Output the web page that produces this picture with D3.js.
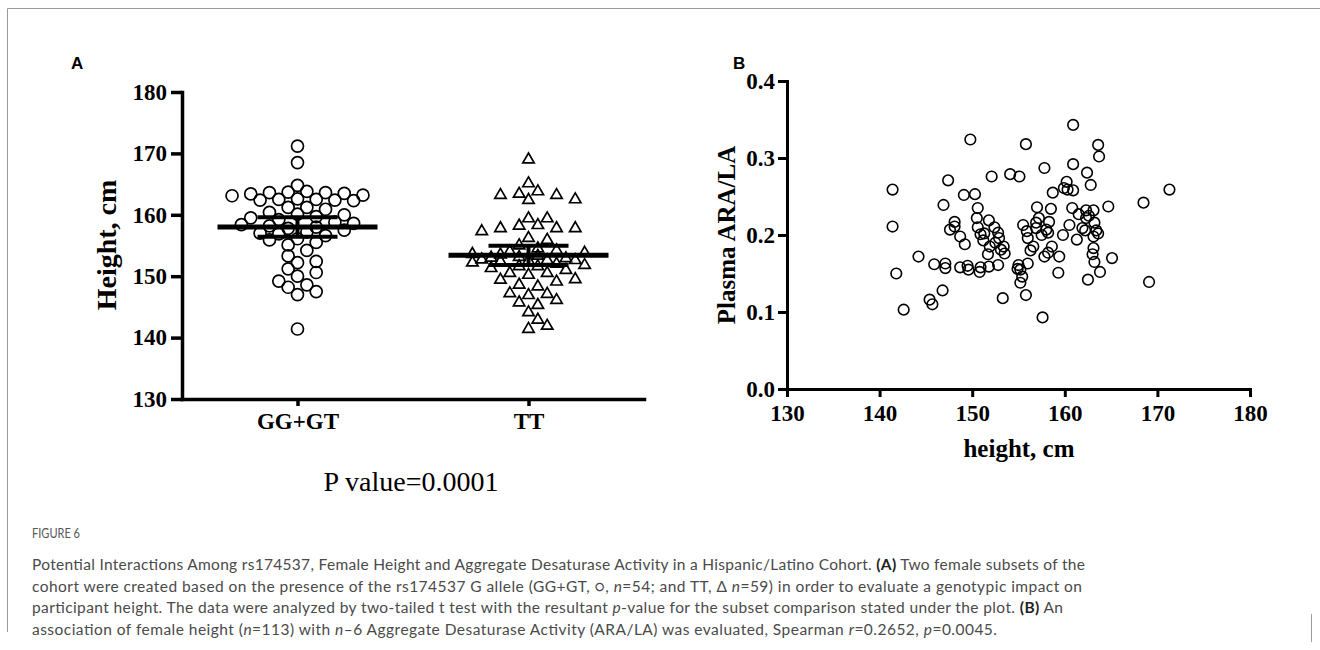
<!DOCTYPE html>
<html>
<head>
<meta charset="utf-8">
<script src="https://cdn.jsdelivr.net/npm/d3@7"></script>
<style>
  body { margin: 0; background: #fff; }
  svg text { fill: #000; }
</style>
</head>
<body>
<div id="plot"></div>
<script>
// ---- data ----
const groups = ["GG+GT", "TT"];

// panel A: female height by genotype, cm
const heightGGGT = [
  171.2, 168.5, 164.8,
  163.8, 163.6, 163.1, 163.5, 163.2, 163.4, 163.7, 163.6,
  162.5, 162.4, 162.3, 162.6, 162.4, 162.5,
  161.2, 160.9, 161.2, 160.1, 160.0,
  157.0, 157.2, 157.5, 157.8, 158.0, 158.2, 158.4, 158.6, 158.8, 159.2, 159.5, 159.7, 160.4,
  156.6, 155.9, 155.1, 154.2, 155.5, 156.1, 156.9,
  153.3, 152.2, 150.6, 151.2, 152.4,
  150.0, 148.6, 147.5, 147.0, 148.2, 149.2,
  141.4
];
const heightTT = [
  169.0, 165.1,
  163.2, 163.4, 162.4, 162.5, 163.2, 163.8,
  159.4, 159.4, 157.8, 157.8, 158.3, 158.2, 157.3, 157.8, 156.2, 155.9,
  151.0, 151.3, 151.8, 152.0, 152.2, 152.4, 152.5, 152.7, 152.9, 153.0,
  153.1, 153.3, 153.5, 153.6, 153.8, 154.0, 154.2, 154.5, 155.0,
  152.6, 151.6, 152.6, 151.6,
  150.5, 150.2, 149.4, 148.6, 149.1, 149.5, 150.5, 148.3, 147.2, 146.9,
  145.7, 145.3, 146.1, 147.1, 144.1, 142.9, 141.4, 141.9
];
const yTicksA = [130, 140, 150, 160, 170, 180];
const pValueLabel = "P value=0.0001";

// panel B: height (cm) vs plasma ARA/LA
const heightB = [
  160.9, 149.8, 155.8, 163.6, 163.7, 157.8, 160.9, 162.4, 152.1, 154.1,
  155.1, 147.4, 162.8, 160.2, 160.3, 160.9, 141.4, 171.3, 158.7, 149.1,
  150.3, 168.5, 146.9, 150.6, 157.0, 158.5, 160.8, 163.1, 164.7, 162.3,
  141.4, 148.1, 148.1, 150.5, 151.8, 148.7, 149.2, 150.9, 151.3, 152.8,
  152.4, 155.5, 156.9, 158.3, 158.2, 156.9, 159.8, 160.5, 161.3, 162.2,
  162.3, 163.2, 163.6, 163.1, 163.1, 156.0, 156.6, 151.9, 153.4, 153.5,
  151.7, 158.2, 157.8, 159.4, 159.3, 163.2, 163.8, 162.5, 165.1, 144.2,
  145.9, 147.1, 147.1, 148.7, 149.6, 150.8, 151.8, 152.8, 155.0, 156.0,
  155.2, 155.4, 155.2, 155.8, 141.8, 169.1, 146.8, 145.4, 145.7, 142.6,
  153.3, 157.6, 152.9, 157.5, 158.0, 157.2, 161.9, 162.6, 163.4, 150.6,
  151.2, 153.1, 156.3, 150.9, 147.6, 163.0, 161.5, 155.9, 159.9, 152.5,
  154.9, 158.6, 149.5
];
const araLa = [
  0.343, 0.324, 0.318, 0.317, 0.302, 0.287, 0.292, 0.281, 0.276, 0.279,
  0.276, 0.271, 0.265, 0.269, 0.259, 0.258, 0.259, 0.259, 0.255, 0.252,
  0.253, 0.242, 0.239, 0.235, 0.236, 0.234, 0.235, 0.232, 0.237, 0.232,
  0.211, 0.217, 0.211, 0.222, 0.219, 0.198, 0.188, 0.201, 0.202, 0.203,
  0.210, 0.213, 0.216, 0.217, 0.203, 0.209, 0.200, 0.213, 0.194, 0.206,
  0.222, 0.216, 0.202, 0.198, 0.183, 0.196, 0.185, 0.185, 0.185, 0.176,
  0.175, 0.177, 0.172, 0.172, 0.151, 0.165, 0.152, 0.142, 0.170, 0.172,
  0.162, 0.157, 0.163, 0.158, 0.155, 0.152, 0.159, 0.161, 0.161, 0.163,
  0.155, 0.146, 0.138, 0.122, 0.150, 0.139, 0.128, 0.116, 0.110, 0.103,
  0.118, 0.093, 0.196, 0.200, 0.207, 0.222, 0.209, 0.225, 0.206, 0.210,
  0.193, 0.181, 0.180, 0.158, 0.207, 0.175, 0.227, 0.205, 0.261, 0.190,
  0.156, 0.185, 0.160
];
const xTicksB = [130, 140, 150, 160, 170, 180];
const yTicksB = [0, 0.1, 0.2, 0.3, 0.4];

const serif = "'Liberation Serif', 'Times New Roman', serif";

const svg = d3.select("#plot").append("svg")
  .attr("width", 1320).attr("height", 650)
  .style("background", "#fff");

// frame lines of the figure box
svg.append("path").attr("d", "M7.5,632 V8.5 H1320")
  .attr("fill", "none").attr("stroke", "#9a9a9a").attr("stroke-width", 1);
svg.append("path").attr("d", "M1311.5,614 V642")
  .attr("fill", "none").attr("stroke", "#9a9a9a").attr("stroke-width", 1);

// ---------- panel A ----------
const yA = d3.scaleLinear().domain([130, 180]).range([399, 92]);
const xA = d3.scalePoint().domain(groups).range([182, 644]).padding(0.5);

function styleAxis(g, w) {
  g.select(".domain").attr("stroke-width", w).attr("stroke-linecap", "square");
  g.selectAll(".tick line").attr("stroke-width", w);
  g.selectAll(".tick text").attr("font-family", serif).attr("font-weight", "bold")
    .attr("font-size", 23);
}

svg.append("g").attr("transform", "translate(182,0)")
  .call(d3.axisLeft(yA).tickValues(yTicksA).tickSize(11).tickSizeOuter(0).tickPadding(4))
  .call(g => styleAxis(g, 3.5));

svg.append("g").attr("transform", "translate(0,399)")
  .call(d3.axisBottom(xA).tickSize(7).tickSizeOuter(0).tickPadding(7))
  .call(g => styleAxis(g, 3.5));

// simple beeswarm: y fixed by the value, x pushed out in half steps,
// never wider than maxOff (points may overlap there, as in the original)
function swarm(values, cx, D, step, maxOff) {
  const m = d3.mean(values);
  const pts = values.map(v => ({ v, py: yA(v) }))
    .sort((a, b) => Math.abs(b.v - m) - Math.abs(a.v - m));
  const placed = [];
  const nK = 2 * Math.floor(maxOff / step) + 1;
  pts.forEach(p => {
    let best = null, bestD = -1;
    for (let k = 0; k < nK; k++) {
      const off = k === 0 ? 0 : (k % 2 ? 1 : -1) * Math.ceil(k / 2) * step;
      const x = cx + off;
      const dmin = placed.length ? d3.min(placed, q => Math.hypot(q.x - x, q.py - p.py)) : Infinity;
      if (dmin >= D) { best = x; break; }
      if (dmin > bestD) { bestD = dmin; best = x; }
    }
    p.x = best;
    placed.push(p);
  });
  return placed;
}

const ggPts = swarm(heightGGGT, xA("GG+GT"), 11, 9.35, 66);
const ttPts = swarm(heightTT, xA("TT"), 11, 9.35, 57);

svg.append("g").selectAll("circle").data(ggPts).join("circle")
  .attr("cx", d => d.x).attr("cy", d => d.py).attr("r", 6)
  .attr("fill", "none").attr("stroke", "#000").attr("stroke-width", 1.7);

const tri = d3.symbol().type(d3.symbolTriangle).size(56);
svg.append("g").selectAll("path").data(ttPts).join("path")
  .attr("d", tri)
  .attr("transform", d => `translate(${d.x},${d.py})`)
  .attr("fill", "none").attr("stroke", "#000").attr("stroke-width", 1.7);

// mean with 95% CI
[[groups[0], heightGGGT], [groups[1], heightTT]].forEach(([g, vals]) => {
  const cx = xA(g);
  const m = d3.mean(vals);
  const ci = 2.0 * d3.deviation(vals) / Math.sqrt(vals.length);
  const e = svg.append("g").attr("stroke", "#000");
  e.append("line").attr("x1", cx - 80).attr("x2", cx + 80)
    .attr("y1", yA(m)).attr("y2", yA(m)).attr("stroke-width", 5);
  e.append("line").attr("x1", cx).attr("x2", cx)
    .attr("y1", yA(m + ci)).attr("y2", yA(m - ci)).attr("stroke-width", 4);
  [m + ci, m - ci].forEach(v => e.append("line")
    .attr("x1", cx - 40).attr("x2", cx + 40)
    .attr("y1", yA(v)).attr("y2", yA(v)).attr("stroke-width", 4));
});

svg.append("text").attr("transform", "translate(106,245) rotate(-90)")
  .attr("text-anchor", "middle").attr("dominant-baseline", "central")
  .attr("font-family", serif).attr("font-weight", "bold").attr("font-size", 28)
  .text("Height, cm");

svg.append("text").attr("x", 411).attr("y", 491)
  .attr("text-anchor", "middle")
  .attr("font-family", serif).attr("font-size", 28)
  .text(pValueLabel);

svg.append("text").attr("x", 71).attr("y", 69)
  .attr("font-family", "'Liberation Sans', Arial, sans-serif")
  .attr("font-weight", "bold").attr("font-size", 17).text("A");

// ---------- panel B ----------
const xB = d3.scaleLinear().domain([130, 180]).range([787, 1250]);
const yB = d3.scaleLinear().domain([0, 0.4]).range([389, 81]);

svg.append("g").attr("transform", "translate(787,0)")
  .call(d3.axisLeft(yB).tickValues(yTicksB).tickFormat(d3.format(".1f"))
    .tickSize(9).tickSizeOuter(0).tickPadding(3))
  .call(g => styleAxis(g, 3));

svg.append("g").attr("transform", "translate(0,389)")
  .call(d3.axisBottom(xB).tickValues(xTicksB).tickSize(8).tickSizeOuter(0).tickPadding(8))
  .call(g => styleAxis(g, 3));

svg.append("g").selectAll("circle").data(heightB).join("circle")
  .attr("cx", d => xB(d)).attr("cy", (d, i) => yB(araLa[i])).attr("r", 5.3)
  .attr("fill", "none").attr("stroke", "#000").attr("stroke-width", 1.6);

svg.append("text").attr("x", 1019).attr("y", 448)
  .attr("text-anchor", "middle").attr("dominant-baseline", "central")
  .attr("font-family", serif).attr("font-weight", "bold").attr("font-size", 25)
  .text("height, cm");

svg.append("text").attr("transform", "translate(726,235) rotate(-90)")
  .attr("text-anchor", "middle").attr("dominant-baseline", "central")
  .attr("font-family", serif).attr("font-weight", "bold").attr("font-size", 25)
  .text("Plasma ARA/LA");

svg.append("text").attr("x", 733).attr("y", 69)
  .attr("font-family", "'Liberation Sans', Arial, sans-serif")
  .attr("font-weight", "bold").attr("font-size", 17).text("B");

// ---------- caption ----------
const capFont = "Lato, 'Open Sans', sans-serif";
svg.append("text").attr("x", 32).attr("y", 538)
  .attr("font-family", capFont).attr("font-size", 13)
  .attr("textLength", 48).attr("lengthAdjust", "spacingAndGlyphs")
  .style("fill", "#555").text("FIGURE 6");

const captionLines = [
  [["Potential Interactions Among rs174537, Female Height and Aggregate Desaturase Activity in a Hispanic/Latino Cohort. "], ["(A)", "b"], [" Two female subsets of the"]],
  [["cohort were created based on the presence of the rs174537 G allele (GG+GT, \u25CB, "], ["n", "i"], ["=54; and TT, \u0394 "], ["n", "i"], ["=59) in order to evaluate a genotypic impact on"]],
  [["participant height. The data were analyzed by two-tailed t test with the resultant "], ["p", "i"], ["-value for the subset comparison stated under the plot. "], ["(B)", "b"], [" An"]],
  [["association of female height ("], ["n", "i"], ["=113) with "], ["n", "i"], ["\u20136 Aggregate Desaturase Activity (ARA/LA) was evaluated, Spearman "], ["r", "i"], ["=0.2652, "], ["p", "i"], ["=0.0045."]]
];
const capWidths = [1053, 1050, 1031, 965];

captionLines.forEach((segs, li) => {
  const t = svg.append("text").attr("x", 32).attr("y", 570 + li * 21.7)
    .attr("font-family", capFont).attr("font-size", 15.5)
    .attr("textLength", capWidths[li]).attr("lengthAdjust", "spacing")
    .style("fill", "#4a4a4a");
  segs.forEach(([s, f]) => {
    const ts = t.append("tspan").text(s);
    if (f === "b") ts.attr("font-weight", "bold").style("fill", "#222");
    if (f === "i") ts.attr("font-style", "italic");
  });
});
</script>
</body>
</html>
